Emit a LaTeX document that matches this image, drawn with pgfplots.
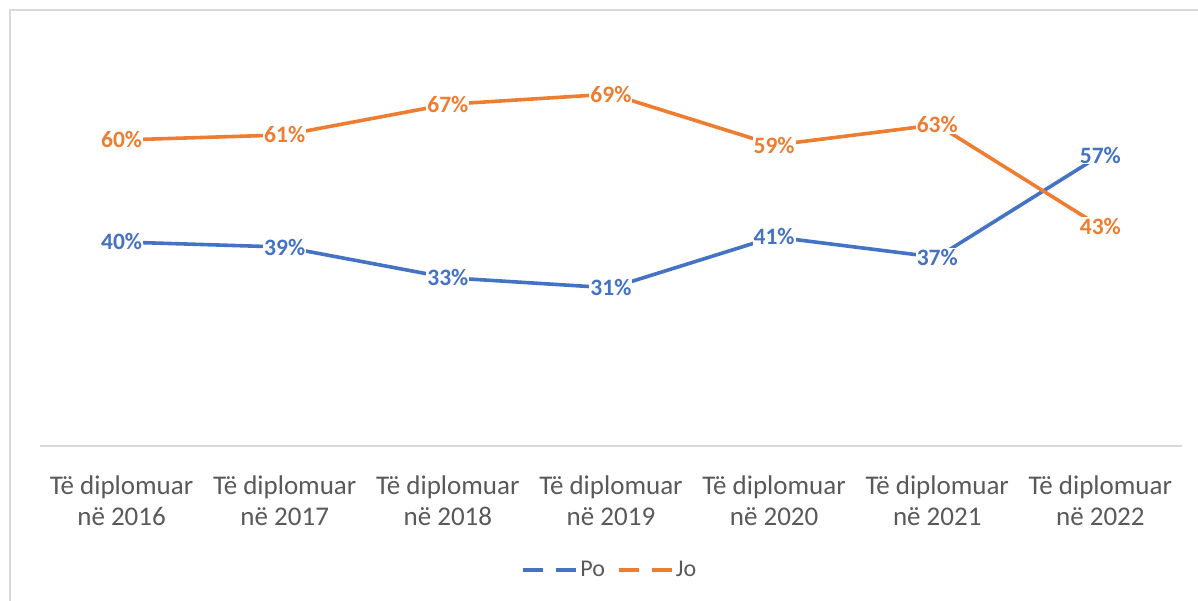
\documentclass[border=0pt]{standalone}
\usepackage{fontspec}
\setmainfont{Carlito}
\usepackage{pgfplots}
\pgfplotsset{compat=1.18}
\definecolor{cblue}{HTML}{4472C4}
\definecolor{corange}{HTML}{ED7D31}
\definecolor{ctext}{HTML}{595959}
\definecolor{cgrid}{HTML}{D9D9D9}
\begin{document}
\begin{tikzpicture}[x=1bp,y=1bp]
\useasboundingbox (0,0) rectangle (1198,601);
\draw[cgrid, line width=1.2bp] (10,-10) rectangle (1215,591);
\begin{axis}[
  at={(40bp,155bp)}, anchor=south west,
  scale only axis, width=1142bp, height=408bp,
  xmin=-0.5, xmax=6.5, ymin=0, ymax=80,
  clip=false,
  /pgf/number format/assume math mode=true,
  axis y line=none,
  axis x line=bottom,
  x axis line style={-, cgrid, line width=1.5bp},
  xtick={0,...,6},
  major tick length=0pt,
  xticklabels={{Të diplomuar\\në 2016},{Të diplomuar\\në 2017},{Të diplomuar\\në 2018},{Të diplomuar\\në 2019},{Të diplomuar\\në 2020},{Të diplomuar\\në 2021},{Të diplomuar\\në 2022}},
  xticklabel style={font=\fontsize{27bp}{31bp}\selectfont, text=ctext, align=center, yshift=-26bp},
  nodes near coords={\pgfmathprintnumber{\pgfplotspointmeta}\%},
  nodes near coords align=center,
  every node near coord/.append style={anchor=center, fill=white, inner sep=1bp, font=\bfseries\fontsize{23.5bp}{26bp}\selectfont},
  legend style={at={(0.499,-0.304)}, anchor=center, draw=none, fill=none, legend columns=2,
    font=\fontsize{24bp}{26bp}\selectfont, text=ctext,
    /tikz/every even column/.append style={column sep=10bp}},
  legend image code/.code={\draw[#1, line width=4bp, dash pattern=on 20bp off 13bp] (0bp,0bp) -- (53bp,0bp);},
]
\addplot[cblue, line width=3.6bp, every node near coord/.append style={text=cblue}] coordinates {
(0,40) (1,39) (2,33) (3,31) (4,41) (5,37) (6,57)};
\addlegendentry{Po}
\addplot[corange, line width=3.6bp, every node near coord/.append style={text=corange}] coordinates {
(0,60) (1,61) (2,67) (3,69) (4,59) (5,63) (6,43)};
\addlegendentry{Jo}
\end{axis}
\end{tikzpicture}
\end{document}
